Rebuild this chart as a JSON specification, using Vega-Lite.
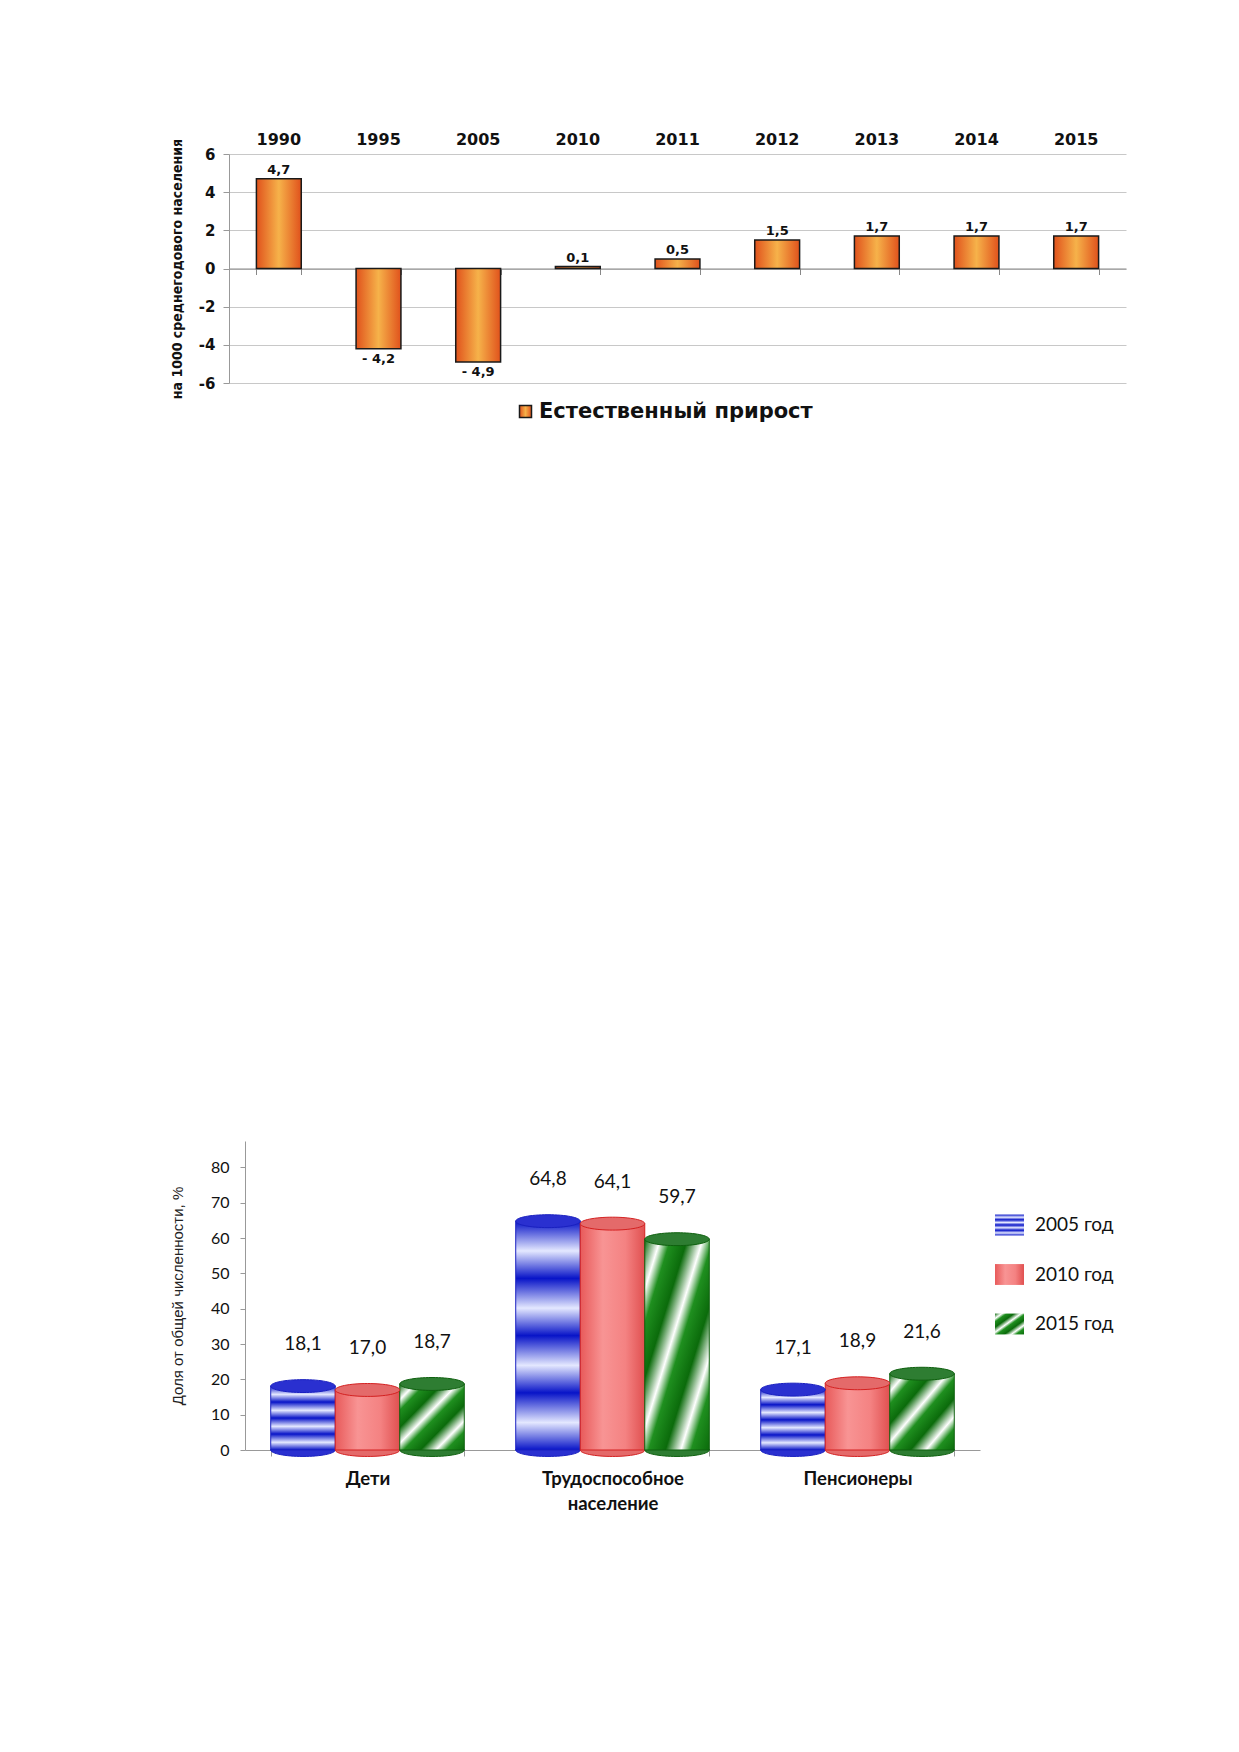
{
  "$schema": "https://vega.github.io/schema/vega-lite/v6.json",
  "background": "white",
  "padding": {"left": 170, "top": 131, "right": 10, "bottom": 10},
  "columns": 1,
  "align": "none",
  "spacing": 711,
  "config": {"view": {"stroke": null}},
  "resolve": {
    "scale": {"color": "independent", "stroke": "independent", "fill": "independent"},
    "legend": {"color": "independent", "stroke": "independent", "fill": "independent"}
  },
  "concat": [
    {
      "width": 897,
      "height": 229,
      "data": {
        "values": [
          {"year": "1990", "value": 4.7, "label": "4,7", "series": "Естественный прирост"},
          {"year": "1995", "value": -4.2, "label": "- 4,2", "series": "Естественный прирост"},
          {"year": "2005", "value": -4.9, "label": "- 4,9", "series": "Естественный прирост"},
          {"year": "2010", "value": 0.1, "label": "0,1", "series": "Естественный прирост"},
          {"year": "2011", "value": 0.5, "label": "0,5", "series": "Естественный прирост"},
          {"year": "2012", "value": 1.5, "label": "1,5", "series": "Естественный прирост"},
          {"year": "2013", "value": 1.7, "label": "1,7", "series": "Естественный прирост"},
          {"year": "2014", "value": 1.7, "label": "1,7", "series": "Естественный прирост"},
          {"year": "2015", "value": 1.7, "label": "1,7", "series": "Естественный прирост"}
        ]
      },
      "resolve": {"axis": {"x": "independent"}},
      "layer": [
        {
          "mark": {
            "type": "bar",
            "fill": {
              "gradient": "linear", "x1": 0, "y1": 0, "x2": 1, "y2": 0,
              "stops": [
                {"offset": 0, "color": "#e0521c"},
                {"offset": 0.5, "color": "#f6b24a"},
                {"offset": 1, "color": "#e0521c"}
              ]
            },
            "strokeWidth": 1.5
          },
          "encoding": {
            "x": {
              "field": "year", "type": "nominal", "sort": null,
              "scale": {"paddingInner": 0.55, "paddingOuter": 0.275},
              "axis": {
                "orient": "top", "title": null, "labelAngle": 0, "domain": false,
                "ticks": false, "tickSize": 0, "labelPadding": 7,
                "labelFont": "DejaVu Sans", "labelFontWeight": "bold",
                "labelFontSize": 16, "labelColor": "#111"
              }
            },
            "y": {
              "field": "value", "type": "quantitative",
              "scale": {"domain": [-6, 6], "nice": false},
              "axis": {
                "values": [-6, -4, -2, 0, 2, 4, 6], "tickCount": 20, "format": "d",
                "labelExpr": "replace(datum.label, '−', '-')",
                "labelOverlap": false,
                "title": "на 1000 среднегодового населения",
                "titleFont": "DejaVu Sans Condensed", "titleFontWeight": "bold",
                "titleFontSize": 14, "titleColor": "#111", "titlePadding": 14,
                "labelFont": "DejaVu Sans", "labelFontWeight": "bold",
                "labelFontSize": 15, "labelColor": "#111", "labelPadding": 8,
                "tickSize": 6, "tickColor": "#999", "domainColor": "#999",
                "gridColor": "#c8c8c8"
              }
            },
            "stroke": {
              "field": "series", "type": "nominal",
              "scale": {"range": ["#1a1a1a"]},
              "legend": {
                "orient": "none", "legendX": 286, "legendY": 247, "title": null,
                "symbolType": "square", "symbolSize": 144, "symbolStrokeWidth": 1.5,
                "symbolFillColor": "#ec8a3e", "labelLimit": 500,
                "labelFont": "DejaVu Sans", "labelFontWeight": "bold",
                "labelFontSize": 21, "labelColor": "#111", "labelOffset": 3
              }
            }
          }
        },
        {
          "transform": [{"filter": "datum.value >= 0"}],
          "mark": {
            "type": "text", "baseline": "bottom", "dy": -2,
            "font": "DejaVu Sans", "fontWeight": "bold", "fontSize": 13, "color": "#111"
          },
          "encoding": {
            "x": {
              "field": "year", "type": "nominal", "sort": null,
              "axis": {
                "orient": "bottom", "offset": -114.5, "labels": false, "title": null,
                "domain": true, "domainColor": "#888", "ticks": true,
                "tickBand": "extent", "tickSize": 6, "tickColor": "#888", "grid": false
              }
            },
            "y": {"field": "value", "type": "quantitative", "title": "на 1000 среднегодового населения"},
            "text": {"field": "label"}
          }
        },
        {
          "transform": [{"filter": "datum.value < 0"}],
          "mark": {
            "type": "text", "baseline": "top", "dy": 4,
            "font": "DejaVu Sans", "fontWeight": "bold", "fontSize": 13, "color": "#111"
          },
          "encoding": {
            "x": {"field": "year", "type": "nominal", "sort": null, "axis": null},
            "y": {"field": "value", "type": "quantitative", "title": "на 1000 среднегодового населения"},
            "text": {"field": "label"}
          }
        }
      ]
    },
    {
      "width": 751,
      "height": 309,
      "data": {
        "values": [
          {"group": "Дети", "series": "2005 год", "value": 18.1, "label": "18,1"},
          {"group": "Дети", "series": "2010 год", "value": 17.0, "label": "17,0"},
          {"group": "Дети", "series": "2015 год", "value": 18.7, "label": "18,7"},
          {"group": "Трудоспособное население", "series": "2005 год", "value": 64.8, "label": "64,8"},
          {"group": "Трудоспособное население", "series": "2010 год", "value": 64.1, "label": "64,1"},
          {"group": "Трудоспособное население", "series": "2015 год", "value": 59.7, "label": "59,7"},
          {"group": "Пенсионеры", "series": "2005 год", "value": 17.1, "label": "17,1"},
          {"group": "Пенсионеры", "series": "2010 год", "value": 18.9, "label": "18,9"},
          {"group": "Пенсионеры", "series": "2015 год", "value": 21.6, "label": "21,6"}
        ]
      },
      "encoding": {
        "x": {
          "field": "group", "type": "nominal", "sort": null,
          "scale": {"range": [16, 751], "paddingInner": 0.21, "paddingOuter": 0.105},
          "axis": {
            "title": null, "labelAngle": 0,
            "labelExpr": "datum.label == 'Трудоспособное население' ? ['Трудоспособное', 'население'] : datum.label",
            "labelFont": "Lato", "labelFontWeight": "bold", "labelFontSize": 18.5,
            "labelColor": "#111", "labelPadding": 13, "labelLineHeight": 25,
            "domainColor": "#999", "tickColor": "#999", "tickSize": 6, "tickBand": "extent"
          }
        },
        "xOffset": {
          "field": "series", "type": "nominal", "sort": null,
          "scale": {"paddingInner": 0, "paddingOuter": 0}
        }
      },
      "layer": [
        {
          "mark": {
            "type": "point", "filled": true, "opacity": 1, "strokeWidth": 1,
            "shape": "M-1,0A1,0.2 0 1,1 1,0A1,0.2 0 1,1 -1,0Z", "size": 4160
          },
          "encoding": {
            "y": {"datum": 0, "type": "quantitative"},
            "fill": {
              "field": "series", "type": "nominal", "legend": null,
              "scale": {"range": ["#2a30d0", "#e46a6a", "#2e7d32"]}
            },
            "stroke": {"field": "series", "type": "nominal", "legend": null}
          }
        },
        {
          "mark": {"type": "bar", "strokeWidth": 1},
          "encoding": {
            "y": {
              "field": "value", "type": "quantitative",
              "scale": {"domain": [0, 87.5], "nice": false},
              "axis": {
                "values": [0, 10, 20, 30, 40, 50, 60, 70, 80, 87.5], "tickCount": 30,
                "labelExpr": "datum.value > 85 ? '' : datum.label",
                "labelOverlap": false, "offset": -16,
                "title": "Доля от общей численности, %",
                "titleFont": "Liberation Sans", "titleFontWeight": "normal",
                "titleFontSize": 15, "titleColor": "#222", "titlePadding": 25,
                "labelFont": "Lato", "labelFontSize": 16, "labelColor": "#111",
                "labelPadding": 11, "tickSize": 5, "tickColor": "#999",
                "tickOpacity": {"condition": {"test": "datum.value > 85", "value": 0}, "value": 1},
                "domainColor": "#999", "gridColor": "#d0d0d0", "gridWidth": 1.5
              }
            },
            "color": {
              "field": "series", "type": "nominal",
              "scale": {
                "range": [
                  {"expr": "{gradient: 'linear', x1: 0, y1: 0, x2: 0, y2: 1, stops: [{offset: 0, color: '#0814c8'}, {offset: 0.13, color: '#e4e8ff'}, {offset: 0.25, color: '#0814c8'}, {offset: 0.38, color: '#e4e8ff'}, {offset: 0.5, color: '#0814c8'}, {offset: 0.63, color: '#e4e8ff'}, {offset: 0.75, color: '#0814c8'}, {offset: 0.88, color: '#e4e8ff'}, {offset: 1, color: '#0814c8'}]}"},
                  {"expr": "{gradient: 'linear', x1: 0, y1: 0, x2: 1, y2: 0, stops: [{offset: 0, color: '#e85a5a'}, {offset: 0.35, color: '#f89494'}, {offset: 0.7, color: '#f48282'}, {offset: 1, color: '#e05050'}]}"},
                  {"expr": "{gradient: 'linear', x1: 0, y1: 0, x2: 1, y2: 1, stops: [{offset: 0, color: '#0b6b0b'}, {offset: 0.12, color: '#ffffff'}, {offset: 0.2, color: '#1f8f1f'}, {offset: 0.33, color: '#0b6b0b'}, {offset: 0.45, color: '#ffffff'}, {offset: 0.53, color: '#1f8f1f'}, {offset: 0.66, color: '#0b6b0b'}, {offset: 0.78, color: '#ffffff'}, {offset: 0.86, color: '#1f8f1f'}, {offset: 1, color: '#0b6b0b'}]}"}
                ]
              },
              "legend": {
                "orient": "none", "legendX": 765, "legendY": 68.5, "title": null,
                "symbolType": "M-1,-0.72L1,-0.72L1,0.72L-1,0.72Z", "symbolSize": 841,
                "symbolStrokeWidth": 1.5, "labelFont": "Lato", "labelFontSize": 19,
                "labelColor": "#111", "rowPadding": 23.5, "labelOffset": 10
              }
            },
            "stroke": {
              "field": "series", "type": "nominal",
              "scale": {"range": ["#1a20c0", "#d42020", "#0e600e"]},
              "legend": {
                "orient": "none", "legendX": 765, "legendY": 68.5, "title": null,
                "symbolType": "M-1,-0.72L1,-0.72L1,0.72L-1,0.72Z", "symbolSize": 841,
                "symbolStrokeWidth": 1.5, "labelFont": "Lato", "labelFontSize": 19,
                "labelColor": "#111", "rowPadding": 23.5, "labelOffset": 10
              }
            }
          }
        },
        {
          "mark": {
            "type": "point", "filled": true, "opacity": 1, "strokeWidth": 1,
            "shape": "M-1,0A1,0.2 0 1,1 1,0A1,0.2 0 1,1 -1,0Z", "size": 4160
          },
          "encoding": {
            "y": {"field": "value", "type": "quantitative"},
            "fill": {"field": "series", "type": "nominal", "legend": null},
            "stroke": {"field": "series", "type": "nominal", "legend": null}
          }
        },
        {
          "mark": {
            "type": "text", "baseline": "middle", "dy": -42,
            "font": "Lato", "fontSize": 19, "color": "#111"
          },
          "encoding": {
            "y": {"field": "value", "type": "quantitative"},
            "text": {"field": "label"}
          }
        }
      ]
    }
  ]
}
